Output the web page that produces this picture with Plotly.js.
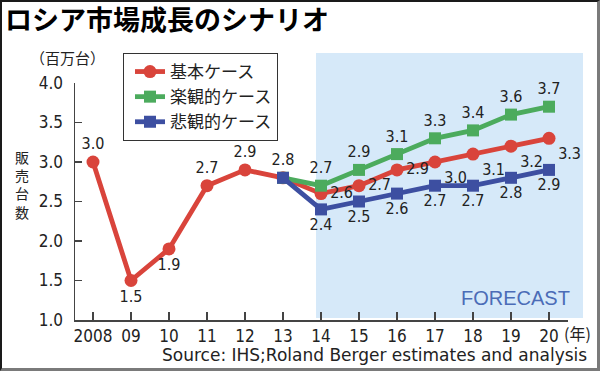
<!DOCTYPE html>
<html>
<head>
<meta charset="utf-8">
<script src="https://cdn.plot.ly/plotly-3.0.1.min.js"></script>
<style>
  html, body { margin: 0; padding: 0; background: #fff; }
  #wrap { position: relative; width: 600px; height: 371px; }
  #chart { width: 600px; height: 371px; }
  #frame { position: absolute; left: 0; top: 0; width: 600px; height: 371px; box-sizing: border-box;
           border-left: 2px solid #1a1a1a; border-top: 2px solid #1a1a1a;
           border-right: 3px solid #7a7a7a; border-bottom: 3px solid #7a7a7a; pointer-events: none; }
</style>
</head>
<body>
<div id="wrap"><div id="chart"></div><div id="frame"></div></div>
<script>
// ---- data ----
const years = [2008, 2009, 2010, 2011, 2012, 2013, 2014, 2015, 2016, 2017, 2018, 2019, 2020];
const yearLabels = ['2008', '09', '10', '11', '12', '13', '14', '15', '16', '17', '18', '19', '20'];
const scenarioYears = [2013, 2014, 2015, 2016, 2017, 2018, 2019, 2020];
const baseCase = [3.0, 1.5, 1.9, 2.7, 2.9, 2.8, 2.6, 2.7, 2.9, 3.0, 3.1, 3.2, 3.3];
const optimisticCase = [2.8, 2.7, 2.9, 3.1, 3.3, 3.4, 3.6, 3.7];
const pessimisticCase = [2.8, 2.4, 2.5, 2.6, 2.7, 2.7, 2.8, 2.9];
const seriesNames = ['基本ケース', '楽観的ケース', '悲観的ケース'];
const forecastStart = 2014;

// ---- styles ----
const RED = '#d9443b', GREEN = '#4cab5d', BLUE = '#3d4fa1';
const numFont = 'DejaVu Sans Condensed, DejaVu Sans, sans-serif';
const jpFont = 'Noto Sans CJK JP, sans-serif';

// plot area in pixels
const L = 75, R = 568, T = 83, B = 320;
const px = x => (x - L) / (R - L);
const py = y => (B - y) / (B - T);

const basePos = ['top center', 'bottom center', 'bottom center', 'top center', 'top center', 'top center',
  'middle right', 'middle right', 'middle right', 'bottom right', 'bottom right', 'bottom right', 'bottom right'];
const fmt = v => v.toFixed(1);

const labelFont = { family: numFont, size: 16, color: '#222' };

const traces = [
  {
    x: years, y: baseCase, name: seriesNames[0], type: 'scatter', mode: 'lines+markers+text',
    line: { color: RED, width: 4.8 }, marker: { color: RED, size: 13, symbol: 'circle' },
    text: baseCase.map(fmt), textposition: basePos, textfont: labelFont, cliponaxis: false
  },
  {
    x: scenarioYears, y: optimisticCase, name: seriesNames[1], type: 'scatter', mode: 'lines+markers+text',
    line: { color: GREEN, width: 4.8 }, marker: { color: GREEN, size: 12, symbol: 'square' },
    text: optimisticCase.map((v, i) => i === 0 ? '' : fmt(v)), textposition: 'top center', textfont: labelFont, cliponaxis: false
  },
  {
    x: scenarioYears, y: pessimisticCase, name: seriesNames[2], type: 'scatter', mode: 'lines+markers+text',
    line: { color: BLUE, width: 4.8 }, marker: { color: BLUE, size: 12, symbol: 'square' },
    text: pessimisticCase.map((v, i) => i === 0 ? '' : fmt(v)), textposition: 'bottom center', textfont: labelFont, cliponaxis: false
  }
];

const xMin = 2007.526, xMax = 2020.5;
const xStep = (R - L) / (xMax - xMin);
const ann = (text, x, y, font, xanchor) => ({
  text, x: px(x), y: py(y), xref: 'paper', yref: 'paper', showarrow: false,
  xanchor: xanchor || 'center', yanchor: 'middle', font
});
const annotations = [
  ann('（百万台）', 67, 57, { family: jpFont, size: 15, color: '#222' }),
  ann('(年)', 577, 333, { family: jpFont, size: 16, color: '#222' }),
  ann('Source: IHS;Roland Berger estimates and analysis', 589, 355,
    { family: 'DejaVu Sans, sans-serif', size: 17, color: '#222' }, 'right'),
  ann('FORECAST', 515, 298, { family: 'Liberation Sans, Arial, sans-serif', size: 20, color: '#4b6cb7' }),
  ann('販売台数'.split('').join('<br>'), 22, 184, { family: jpFont, size: 14, color: '#222' })
];

const layout = {
  width: 600, height: 371,
  margin: { l: L, r: 600 - R, t: T, b: 371 - B, pad: 0 },
  paper_bgcolor: '#fff', plot_bgcolor: 'rgba(0,0,0,0)',
  showlegend: true,
  title: {
    text: 'ロシア市場成長のシナリオ', xref: 'container', yref: 'container',
    x: 5 / 600, xanchor: 'left', y: 1 - 21 / 371, yanchor: 'middle',
    font: { family: jpFont, size: 27, color: '#000', weight: 700 }
  },
  xaxis: {
    range: [xMin, xMax], tickvals: years, ticktext: yearLabels,
    ticks: 'inside', ticklen: 8, tickwidth: 1.3, tickcolor: '#444',
    showline: true, linecolor: '#444', linewidth: 1.5, showgrid: false, zeroline: false,
    tickfont: { family: numFont, size: 17, color: '#222' }, ticklabelstandoff: 0
  },
  yaxis: {
    range: [1, 4], dtick: 0.5, tick0: 1, tickformat: '.1f',
    ticks: 'inside', ticklen: 7, tickwidth: 1.3, tickcolor: '#444',
    showline: true, linecolor: '#444', linewidth: 1.5, showgrid: false, zeroline: false,
    tickfont: { family: numFont, size: 17, color: '#222' }, ticklabelstandoff: 7
  },
  legend: {
    x: px(123), y: py(53), xanchor: 'left', yanchor: 'top', xref: 'paper', yref: 'paper',
    bgcolor: '#fff', bordercolor: '#333', borderwidth: 1, indentation: 6,
    font: { family: jpFont, size: 17, color: '#222' }, tracegroupgap: 0
  },
  shapes: [
    { type: 'rect', xref: 'paper', yref: 'paper', layer: 'below',
      x0: px(L + (forecastStart - xMin) * xStep - 5), x1: px(583), y0: py(318), y1: py(53),
      fillcolor: '#d6e9f9', line: { width: 0 } }
  ],
  annotations: annotations
};

Plotly.newPlot('chart', traces, layout, { staticPlot: true, displayModeBar: false });
</script>
</body>
</html>
